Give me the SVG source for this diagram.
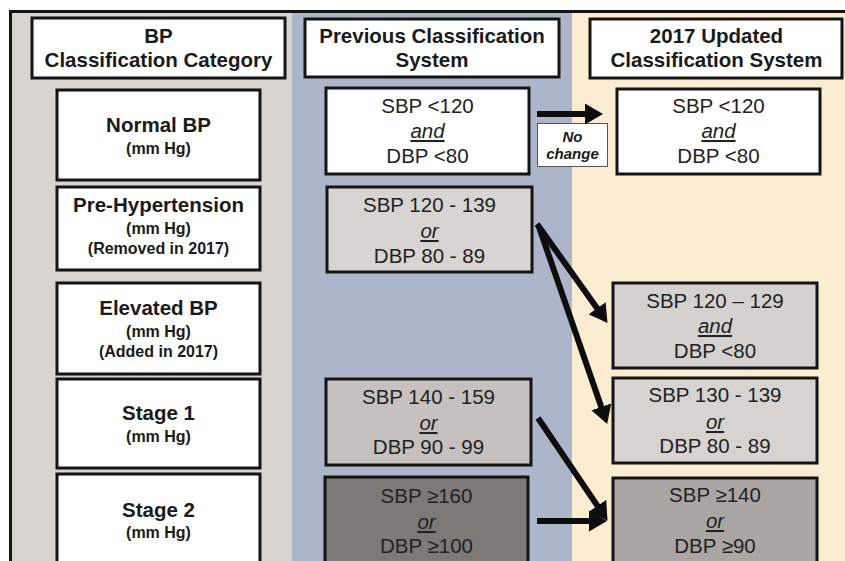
<svg xmlns="http://www.w3.org/2000/svg" width="845" height="561" viewBox="0 0 845 561">
<defs>
<style>
.box{stroke:#141414;stroke-width:3}
.hd{font-family:"Liberation Sans",Arial,sans-serif;font-weight:bold;font-size:20.5px;fill:#1a1a1a;text-anchor:middle}
.lb{font-family:"Liberation Sans",Arial,sans-serif;font-weight:bold;font-size:20.5px;fill:#1a1a1a;text-anchor:middle}
.sb{font-family:"Liberation Sans",Arial,sans-serif;font-weight:bold;font-size:16px;fill:#1a1a1a;text-anchor:middle}
.vl{font-family:"Liberation Sans",Arial,sans-serif;font-size:20.5px;fill:#222;text-anchor:middle}
.cj{font-style:italic;text-decoration:underline}
.nc{font-family:"Liberation Sans",Arial,sans-serif;font-weight:bold;font-style:italic;font-size:15px;fill:#1a1a1a;text-anchor:middle}
.ar{stroke:#0d0d0d;stroke-width:6;fill:none;marker-end:url(#ah)}
</style>
<marker id="ah" markerUnits="userSpaceOnUse" markerWidth="19" markerHeight="21" refX="4" refY="10.5" orient="auto" viewBox="0 0 19 21">
<path d="M0,0 L18,10.5 L0,21 Z" fill="#0d0d0d"/>
</marker>
</defs>
<rect width="845" height="561" fill="#ffffff"/>
<g id="columns">
<rect x="11" y="12" width="281" height="560" fill="#d8d4cf"/>
<rect x="292" y="12" width="280" height="560" fill="#adb5cb"/>
<rect x="572" y="12" width="280" height="560" fill="#fcecd2"/>
<path d="M10.5,580 L10.5,11.5 L850,11.5" fill="none" stroke="#141414" stroke-width="3"/>
</g>
<g id="hdr-left">
<rect class="box" x="32" y="18" width="253" height="60" fill="#fff"/>
<text class="hd" x="158.5" y="43">BP</text>
<text class="hd" x="158.5" y="67">Classification Category</text>
</g>
<g id="hdr-prev">
<rect class="box" x="305" y="19" width="254" height="58" fill="#fff"/>
<text class="hd" x="432" y="43">Previous Classification</text>
<text class="hd" x="432" y="67">System</text>
</g>
<g id="hdr-2017">
<rect class="box" x="590" y="19" width="252" height="59" fill="#fff"/>
<text class="hd" x="716.5" y="43">2017 Updated</text>
<text class="hd" x="716.5" y="67">Classification System</text>
</g>
<g id="cat-normal">
<rect class="box" x="57" y="90" width="203" height="90" fill="#fff"/>
<text class="lb" x="158.5" y="132">Normal BP</text>
<text class="sb" x="158.5" y="154">(mm Hg)</text>
</g>
<g id="cat-prehtn">
<rect class="box" x="57" y="187" width="203" height="83" fill="#fff"/>
<text class="lb" x="158.5" y="212">Pre-Hypertension</text>
<text class="sb" x="158.5" y="234">(mm Hg)</text>
<text class="sb" x="158.5" y="254">(Removed in 2017)</text>
</g>
<g id="cat-elevated">
<rect class="box" x="57" y="283" width="203" height="91" fill="#fff"/>
<text class="lb" x="158.5" y="315">Elevated BP</text>
<text class="sb" x="158.5" y="337">(mm Hg)</text>
<text class="sb" x="158.5" y="357">(Added in 2017)</text>
</g>
<g id="cat-stage1">
<rect class="box" x="57" y="379" width="203" height="89" fill="#fff"/>
<text class="lb" x="158.5" y="420">Stage 1</text>
<text class="sb" x="158.5" y="442">(mm Hg)</text>
</g>
<g id="cat-stage2">
<rect class="box" x="57" y="474" width="203" height="100" fill="#fff"/>
<text class="lb" x="158.5" y="517">Stage 2</text>
<text class="sb" x="158.5" y="538">(mm Hg)</text>
</g>
<g id="prev-normal">
<rect class="box" x="326" y="88" width="203" height="86" fill="#fff"/>
<text class="vl" x="427.5" y="113">SBP &lt;120</text>
<text class="vl cj" x="427.5" y="138">and</text>
<text class="vl" x="427.5" y="163">DBP &lt;80</text>
</g>
<g id="prev-prehtn">
<rect class="box" x="327" y="187" width="205" height="85" fill="#d7d4d1"/>
<text class="vl" x="429.5" y="212">SBP 120 - 139</text>
<text class="vl cj" x="429.5" y="238">or</text>
<text class="vl" x="429.5" y="263">DBP 80 - 89</text>
</g>
<g id="prev-stage1">
<rect class="box" x="326" y="379" width="205" height="86" fill="#c6c1be"/>
<text class="vl" x="428.5" y="404">SBP 140 - 159</text>
<text class="vl cj" x="428.5" y="430">or</text>
<text class="vl" x="428.5" y="454">DBP 90 - 99</text>
</g>
<g id="prev-stage2">
<rect class="box" x="325" y="477" width="203" height="100" fill="#7c7977"/>
<text class="vl" x="426.5" y="503" fill="#2a2a2a">SBP ≥160</text>
<text class="vl cj" x="426.5" y="529">or</text>
<text class="vl" x="426.5" y="553">DBP ≥100</text>
</g>
<g id="new-normal">
<rect class="box" x="617" y="89" width="203" height="85" fill="#fff"/>
<text class="vl" x="718.5" y="113">SBP &lt;120</text>
<text class="vl cj" x="718.5" y="138">and</text>
<text class="vl" x="718.5" y="163">DBP &lt;80</text>
</g>
<g id="new-elevated">
<rect class="box" x="613" y="283" width="204" height="85" fill="#d4d1cf"/>
<text class="vl" x="715" y="308">SBP 120 – 129</text>
<text class="vl cj" x="715" y="333">and</text>
<text class="vl" x="715" y="358">DBP &lt;80</text>
</g>
<g id="new-stage1">
<rect class="box" x="613" y="378" width="204" height="85" fill="#d6d3d1"/>
<text class="vl" x="715" y="402">SBP 130 - 139</text>
<text class="vl cj" x="715" y="429">or</text>
<text class="vl" x="715" y="453">DBP 80 - 89</text>
</g>
<g id="new-stage2">
<rect class="box" x="613" y="478" width="204" height="100" fill="#aaa6a4"/>
<text class="vl" x="715" y="502">SBP ≥140</text>
<text class="vl cj" x="715" y="528">or</text>
<text class="vl" x="715" y="553">DBP ≥90</text>
</g>
<g id="no-change">
<rect x="537.5" y="123.5" width="70" height="43" fill="#fff" stroke="#555" stroke-width="1"/>
<text class="nc" x="572.5" y="142">No</text>
<text class="nc" x="572.5" y="159">change</text>
</g>
<g id="connectors">
<line class="ar" x1="537" y1="114" x2="589" y2="114"/>
<line class="ar" x1="537" y1="224" x2="599.4" y2="311.5"/>
<line class="ar" x1="539" y1="227" x2="602.6" y2="410.7"/>
<line class="ar" x1="538" y1="418" x2="599.7" y2="509.1"/>
<line class="ar" x1="537" y1="521" x2="593" y2="521"/>
</g>
</svg>
